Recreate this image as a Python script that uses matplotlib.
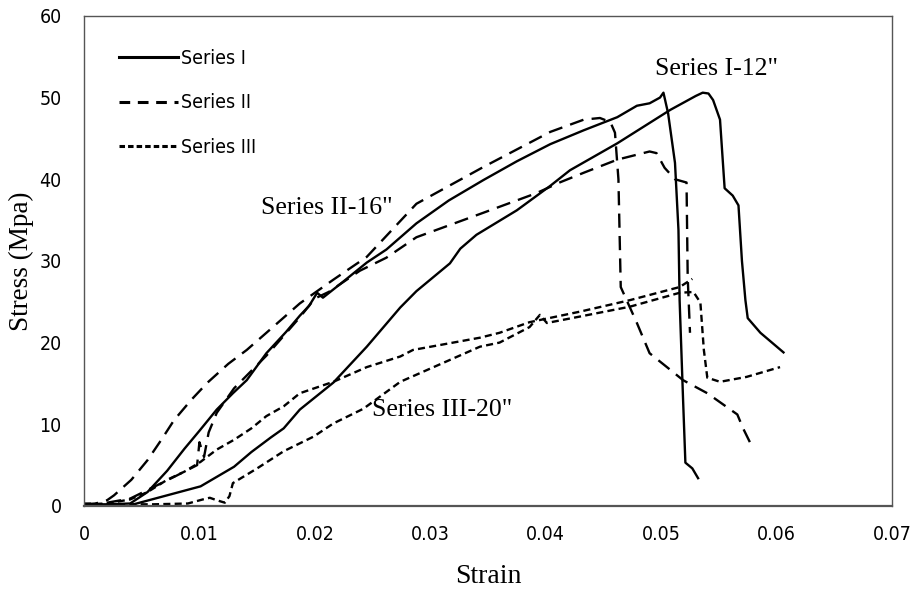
import matplotlib.pyplot as plt
from matplotlib.lines import Line2D

# Series I (solid)
s1a_x = [0.0, 0.002, 0.004, 0.0055, 0.0072, 0.0087, 0.0100, 0.0115, 0.0129, 0.0141, 0.0158, 0.0175, 0.0187,
         0.0195, 0.0202, 0.0207, 0.0224, 0.0245, 0.0262, 0.0288, 0.0316, 0.0346, 0.0375, 0.0404, 0.0433,
         0.0462, 0.0479, 0.0490, 0.0499, 0.0502, 0.0506, 0.0512, 0.0515, 0.0516, 0.0519, 0.0521, 0.0527, 0.0532]
s1a_y = [0.2, 0.2, 0.3, 1.7, 4.3, 7.0, 9.2, 11.8, 13.8, 15.4, 18.7, 21.3, 23.3,
         24.5, 26.1, 25.5, 27.4, 29.8, 31.4, 34.6, 37.4, 39.9, 42.2, 44.3, 46.0,
         47.6, 49.0, 49.3, 50.0, 50.6, 48.1, 42.0, 33.8, 25.2, 13.0, 5.3, 4.6, 3.4]
s1b_x = [0.0043, 0.0072, 0.0101, 0.0130, 0.0145, 0.0162, 0.0173, 0.0187, 0.0216, 0.0245, 0.0274, 0.0288,
         0.0317, 0.0326, 0.0340, 0.0375, 0.0404, 0.0421, 0.0462, 0.0508, 0.0530, 0.0536, 0.0541, 0.0545,
         0.0551, 0.0555, 0.0562, 0.0567, 0.0570, 0.0573, 0.0575, 0.0586, 0.0606]
s1b_y = [0.2, 1.3, 2.4, 4.8, 6.6, 8.4, 9.5, 11.8, 15.1, 19.5, 24.3, 26.3,
         29.7, 31.5, 33.2, 36.2, 39.2, 41.1, 44.4, 48.5, 50.2, 50.6, 50.5, 49.7,
         47.3, 38.9, 38.0, 36.8, 30.0, 25.2, 23.0, 21.2, 18.8]

# Series II (long dash)
s2a_x = [0.0, 0.001, 0.002, 0.0026, 0.0041, 0.0055, 0.0067, 0.0078, 0.0093, 0.0107, 0.0125, 0.0141,
         0.0158, 0.0187, 0.0216, 0.0245, 0.0288, 0.0346, 0.0404, 0.0433, 0.0447, 0.0456, 0.0460, 0.0463,
         0.0465, 0.0479, 0.0490, 0.0505, 0.0519, 0.0540, 0.0557, 0.0566, 0.0571, 0.0579]
s2a_y = [0.2, 0.3, 0.7, 1.3, 3.2, 5.6, 8.1, 10.5, 13.0, 15.1, 17.4, 19.1,
         21.2, 24.8, 27.7, 30.5, 37.0, 41.5, 45.8, 47.3, 47.5, 47.0, 45.7, 40.0,
         26.8, 22.4, 18.7, 17.0, 15.4, 13.8, 12.1, 11.2, 9.5, 7.2]
s2b_x = [0.002, 0.004, 0.006, 0.008, 0.0098, 0.0100, 0.0104, 0.0108, 0.0115, 0.0130, 0.0158, 0.0187,
         0.0200, 0.0212, 0.0239, 0.0262, 0.0288, 0.0346, 0.0392, 0.0412, 0.0433, 0.0462, 0.0490, 0.0496,
         0.0503, 0.0512, 0.0522, 0.0523, 0.0525]
s2b_y = [0.4, 0.9, 2.3, 3.7, 5.0, 7.8, 6.0, 9.0, 11.4, 14.4, 18.4, 23.1,
         25.4, 26.2, 28.8, 30.4, 32.9, 35.9, 38.3, 39.6, 40.8, 42.4, 43.4, 43.2,
         41.4, 40.0, 39.6, 28.0, 21.2]

# Series III (short dash)
s3a_x = [0.0, 0.002, 0.004, 0.0055, 0.0072, 0.0087, 0.0101, 0.0115, 0.0130, 0.0145, 0.0158, 0.0173,
         0.0187, 0.0216, 0.0245, 0.0274, 0.0285, 0.0343, 0.0360, 0.0386, 0.0430, 0.0473, 0.0516, 0.0527]
s3a_y = [0.1, 0.3, 0.8, 1.7, 3.2, 4.2, 5.4, 6.9, 8.1, 9.5, 11.0, 12.2,
         13.8, 15.2, 17.0, 18.3, 19.1, 20.6, 21.2, 22.5, 23.8, 25.2, 26.8, 27.8]
s3b_x = [0.0, 0.003, 0.006, 0.009, 0.0103, 0.0109, 0.0115, 0.0122, 0.0126, 0.0129, 0.0136, 0.0150,
         0.0173, 0.0199, 0.0216, 0.0242, 0.0274, 0.0343, 0.0360, 0.0386, 0.0395, 0.0401, 0.0430, 0.0473,
         0.0516, 0.0528, 0.0534, 0.0537, 0.0540, 0.0551, 0.0574, 0.0603]
s3b_y = [0.3, 0.2, 0.2, 0.3, 0.8, 1.0, 0.7, 0.4, 1.2, 2.8, 3.4, 4.6,
         6.7, 8.5, 10.1, 11.9, 15.2, 19.5, 20.0, 21.9, 23.4, 22.4, 23.2, 24.4,
         26.1, 26.2, 24.9, 19.1, 15.7, 15.2, 15.8, 17.0]

solid = '-'
long_dash = (0, (6.0, 3.5))
short_dash = (0, (3.0, 1.8))
lw = 1.7
narrow = {'family': ['DejaVu Sans'], 'stretch': 'condensed'}

plt.rcParams['font.family'] = ['Liberation Serif', 'DejaVu Serif']
fig = plt.figure(figsize=(9.13, 5.89), dpi=100)
ax = fig.add_axes([0.092, 0.141, 0.885, 0.832])

ax.plot(s1a_x, s1a_y, color='black', lw=lw, ls=solid)
ax.plot(s1b_x, s1b_y, color='black', lw=lw, ls=solid)
ax.plot(s2a_x, s2a_y, color='black', lw=lw, ls=long_dash)
ax.plot(s2b_x, s2b_y, color='black', lw=lw, ls=long_dash)
ax.plot(s3a_x, s3a_y, color='black', lw=lw, ls=short_dash)
ax.plot(s3b_x, s3b_y, color='black', lw=lw, ls=short_dash)

ax.set_xlim(0, 0.07)
ax.set_ylim(0, 60)
ax.set_xticks([0, 0.01, 0.02, 0.03, 0.04, 0.05, 0.06, 0.07])
ax.set_xticklabels(['0', '0.01', '0.02', '0.03', '0.04', '0.05', '0.06', '0.07'])
ax.set_yticks([0, 10, 20, 30, 40, 50, 60])
ax.tick_params(length=0, labelsize=14)
ax.tick_params(axis='x', pad=14)
ax.tick_params(axis='y', pad=16)
for lab in ax.get_xticklabels() + ax.get_yticklabels():
    lab.set_family(narrow['family'])
    lab.set_stretch(narrow['stretch'])
for s in ax.spines.values():
    s.set_color('#555555')
    s.set_linewidth(1.0)
ax.spines['bottom'].set_linewidth(1.6)

ax.set_xlabel('Strain', fontsize=20, labelpad=14)
ax.set_ylabel('Stress (Mpa)', fontsize=19.5, labelpad=4)

ax.text(0.0548, 53.5, 'Series I-12"', fontsize=18.5, ha='center', va='center')
ax.text(0.0210, 36.5, 'Series II-16"', fontsize=18.5, ha='center', va='center')
ax.text(0.0310, 11.8, 'Series III-20"', fontsize=18.5, ha='center', va='center')

handles = [Line2D([], [], color='black', lw=2.2, ls=solid),
           Line2D([], [], color='black', lw=2.2, ls=(0, (3.5, 2.5))),
           Line2D([], [], color='black', lw=2.2, ls=(0, (1.8, 1.0)))]
leg = ax.legend(handles, ['Series I', 'Series II', 'Series III'], loc='upper left',
                bbox_to_anchor=(0.022, 0.968), frameon=False, handlelength=3.0,
                handletextpad=0.2, labelspacing=1.3,
                prop={'family': narrow['family'], 'stretch': narrow['stretch'], 'size': 14})

fig.savefig('out.png', dpi=100)
